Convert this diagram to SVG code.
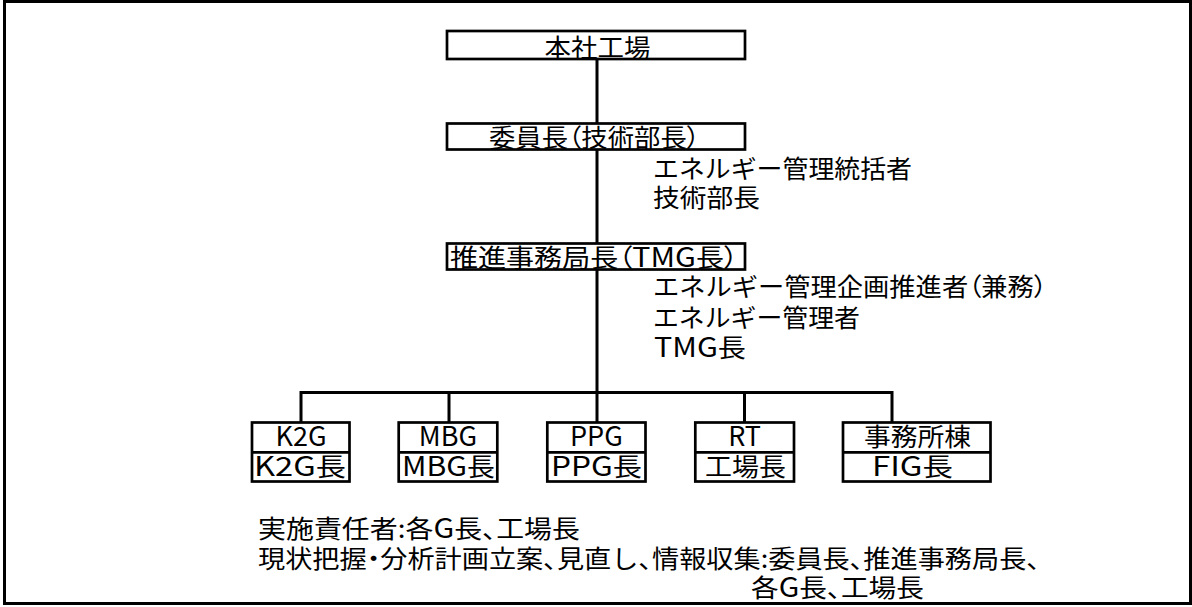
<svg xmlns="http://www.w3.org/2000/svg" width="1192" height="607" viewBox="0 0 1192 607">
<style>
text{font-family:"Noto Sans CJK JP","Noto Sans CJK SC",sans-serif;font-size:25px;fill:#000}
.m{text-anchor:middle}
.l{font-size:27px}
.p{font-feature-settings:"palt"}
.box{fill:#fff;stroke:#000;stroke-width:2.7}
.ln{fill:none;stroke:#000;stroke-width:3}
</style>
<rect x="4.5" y="1.5" width="1186" height="602" fill="#fff" stroke="#000" stroke-width="3"/>
<g id="connectors" class="ln">
<path d="M597 59V123.5M597 149.5V243.5M597 269.5V392.5"/>
<path d="M301 392.5H892M301 391V422.5M449 392.5V422.5M597 392.5V422.5M744.5 392.5V422.5M892 391V422.5"/>
</g>
<g id="n-honsha">
<rect class="box" x="447" y="31" width="298" height="28"/>
<text class="m" x="597.5" y="56.5" textLength="106" lengthAdjust="spacingAndGlyphs">本社工場</text>
</g>
<g id="n-iincho">
<rect class="box" x="447" y="123.5" width="298" height="26"/>
<text x="489" y="146.5" textLength="211" lengthAdjust="spacingAndGlyphs">委員長<tspan class="p">（</tspan>技術部長<tspan class="p">）</tspan></text>
</g>
<g id="note-iincho">
<text x="653" y="178" textLength="259" lengthAdjust="spacingAndGlyphs">エネルギー管理統括者</text>
<text x="653" y="207" textLength="107" lengthAdjust="spacingAndGlyphs">技術部長</text>
</g>
<g id="n-suishin">
<rect class="box" x="447" y="243.5" width="298" height="26"/>
<text x="450" y="266.5" textLength="288" lengthAdjust="spacingAndGlyphs">推進事務局長<tspan class="p">（</tspan><tspan class="l">TMG</tspan>長<tspan class="p">）</tspan></text>
</g>
<g id="note-suishin">
<text x="653" y="296" textLength="394" lengthAdjust="spacingAndGlyphs">エネルギー管理企画推進者<tspan class="p">（</tspan>兼務<tspan class="p">）</tspan></text>
<text x="653" y="327" textLength="207" lengthAdjust="spacingAndGlyphs">エネルギー管理者</text>
<text x="654" y="357" textLength="92" lengthAdjust="spacingAndGlyphs"><tspan class="l">TMG</tspan>長</text>
</g>
<g id="n-k2g">
<rect class="box" x="252" y="422.5" width="97.5" height="59"/>
<line class="box" x1="252" y1="452.3" x2="349.5" y2="452.3"/>
<text class="m l" x="301" y="446">K2G</text>
<text x="254" y="476" textLength="92" lengthAdjust="spacingAndGlyphs"><tspan class="l">K2G</tspan>長</text>
</g>
<g id="n-mbg">
<rect class="box" x="398.7" y="422.5" width="98.6" height="59"/>
<line class="box" x1="398.7" y1="452.3" x2="497.3" y2="452.3"/>
<text class="m l" x="448" y="446">MBG</text>
<text x="402" y="476" textLength="93" lengthAdjust="spacingAndGlyphs"><tspan class="l">MBG</tspan>長</text>
</g>
<g id="n-ppg">
<rect class="box" x="547.3" y="422.5" width="98.2" height="59"/>
<line class="box" x1="547.3" y1="452.3" x2="645.5" y2="452.3"/>
<text class="m l" x="596.4" y="446">PPG</text>
<text x="551" y="476" textLength="91" lengthAdjust="spacingAndGlyphs"><tspan class="l">PPG</tspan>長</text>
</g>
<g id="n-rt">
<rect class="box" x="695.3" y="422.5" width="98.7" height="59"/>
<line class="box" x1="695.3" y1="452.3" x2="794" y2="452.3"/>
<text class="m l" x="744.6" y="446">RT</text>
<text class="m" x="745.5" y="476" textLength="81" lengthAdjust="spacingAndGlyphs">工場長</text>
</g>
<g id="n-jimusho">
<rect class="box" x="843" y="422.5" width="147.5" height="59"/>
<line class="box" x1="843" y1="452.3" x2="990.5" y2="452.3"/>
<text class="m" x="917.5" y="445.5" textLength="107" lengthAdjust="spacingAndGlyphs">事務所棟</text>
<text class="m" x="912.5" y="476" textLength="81" lengthAdjust="spacingAndGlyphs"><tspan class="l">FIG</tspan>長</text>
</g>
<g id="notes-bottom">
<text x="258" y="538" textLength="322" lengthAdjust="spacingAndGlyphs">実施責任者:各<tspan class="l">G</tspan>長<tspan class="p">、</tspan>工場長</text>
<text x="258" y="568" textLength="782" lengthAdjust="spacingAndGlyphs">現状把握<tspan class="p">・</tspan>分析計画立案<tspan class="p">、</tspan>見直し<tspan class="p">、</tspan>情報収集:委員長<tspan class="p">、</tspan>推進事務局長<tspan class="p">、</tspan></text>
<text x="751" y="597" textLength="173" lengthAdjust="spacingAndGlyphs">各<tspan class="l">G</tspan>長<tspan class="p">、</tspan>工場長</text>
</g>
</svg>
